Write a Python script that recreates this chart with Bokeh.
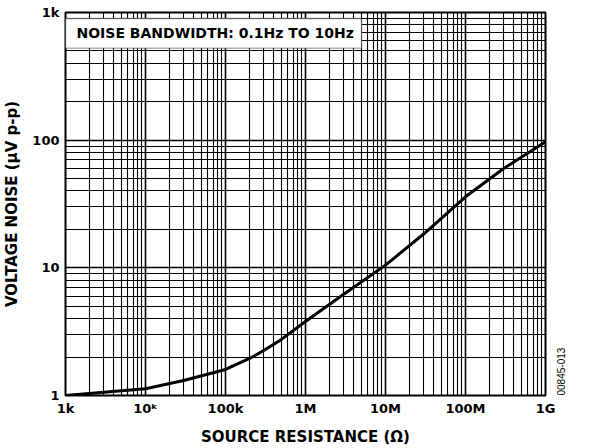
import math
from bokeh.plotting import figure
from bokeh.models import FixedTicker, CustomJSTickFormatter, BoxAnnotation, Label, LogAxis
from bokeh.embed import file_html
from bokeh.resources import INLINE

# data (source resistance in ohms, noise in uV p-p)
resistance = [1e3, 3e3, 1e4, 3e4, 1e5, 2e5, 3e5, 5e5, 1e6, 3e6, 1e7, 3e7, 1e8, 3e8, 1e9]
noise_uvpp = [1.0, 1.06, 1.13, 1.31, 1.6, 1.95, 2.25, 2.75, 3.8, 6.2, 10.5, 18.4, 36.0, 60.0, 97.0]

x_ticks = [1e3, 1e4, 1e5, 1e6, 1e7, 1e8, 1e9]
x_labels = ["1k", "10\u1d4f", "100k", "1M", "10M", "100M", "1G"]
y_ticks = [1, 10, 100, 1000]
y_labels = ["1", "10", "100", "1k"]
figure_code = "00845-013"

FONT = "DejaVu Sans"

p = figure(frame_width=480, frame_height=383, x_axis_type="log", y_axis_type="log",
           x_range=(1e3, 1e9), y_range=(1, 1000),
           output_backend="svg", toolbar_location=None,
           min_border_left=65, min_border_top=12, min_border_right=25, min_border_bottom=30)

def minors(lo, hi):
    out = []
    for d in range(lo, hi):
        for k in range(2, 10):
            out.append(k * 10 ** d)
    return out

p.xaxis.ticker = FixedTicker(ticks=x_ticks, minor_ticks=minors(3, 9))
p.yaxis.ticker = FixedTicker(ticks=y_ticks, minor_ticks=minors(0, 3))
fmt_code = """
let best = 0; let bd = 1e99;
for (let i = 0; i < t.length; i++) { const d = Math.abs(Math.log10(t[i]) - Math.log10(tick)); if (d < bd) { bd = d; best = i; } }
return l[best];
"""
p.xaxis.formatter = CustomJSTickFormatter(args=dict(t=x_ticks, l=x_labels), code=fmt_code)
p.yaxis.formatter = CustomJSTickFormatter(args=dict(t=y_ticks, l=y_labels), code=fmt_code)

for g in (p.xgrid, p.ygrid):
    g.grid_line_color = "black"
    g.grid_line_width = 1.6
    g.grid_line_alpha = 1.0
    g.minor_grid_line_color = "black"
    g.minor_grid_line_width = 1.1

for ax in (p.xaxis, p.yaxis):
    ax.axis_line_color = None
    ax.major_tick_line_color = None
    ax.minor_tick_line_color = None
    ax.major_tick_out = 0
    ax.minor_tick_out = 0
    ax.major_label_text_font = FONT
    ax.major_label_text_font_style = "bold"
    ax.major_label_text_font_size = "13px"
    ax.major_label_text_color = "black"
    ax.axis_label_text_font = FONT
    ax.axis_label_text_font_style = "bold"
    ax.axis_label_text_font_size = "15px"
    ax.axis_label_text_color = "black"

p.xaxis.axis_label = "SOURCE RESISTANCE (\u03a9)"
p.yaxis.axis_label = "VOLTAGE NOISE (\u00b5V p-p)"
p.xaxis.major_label_standoff = 5
p.yaxis.major_label_standoff = 6
p.xaxis.axis_label_standoff = 9
p.yaxis.axis_label_standoff = 8

p.outline_line_color = "black"
p.outline_line_width = 2
p.outline_line_alpha = 1.0

p.line(resistance, noise_uvpp, line_color="black", line_width=3)

# note box in the top-left corner
box = BoxAnnotation(left=1e3, right=10 ** 6.7, bottom=10 ** 2.719, top=10 ** 2.953,
                    fill_color="white", fill_alpha=1.0, line_color="black", line_width=1.5)
p.add_layout(box)
p.add_layout(Label(x=10 ** 3.1375, y=10 ** 2.836, text="NOISE BANDWIDTH: 0.1Hz TO 10Hz",
                   text_font=FONT, text_font_style="bold", text_font_size="14px",
                   text_baseline="middle", text_align="left", text_color="black"))

# figure code on the right edge, as a tick label of a bare right axis
code_axis = LogAxis(ticker=FixedTicker(ticks=[1]),
                    formatter=CustomJSTickFormatter(args=dict(c=figure_code), code="return c;"),
                    major_label_orientation=math.pi / 2,
                    axis_line_color=None, major_tick_line_color=None, minor_tick_line_color=None,
                    major_tick_out=0, minor_tick_out=0, major_label_standoff=15,
                    major_label_text_font="Liberation Sans", major_label_text_font_size="10px",
                    major_label_text_color="black")
p.add_layout(code_axis, "right")

open("out.html", "w").write(file_html(p, INLINE))
